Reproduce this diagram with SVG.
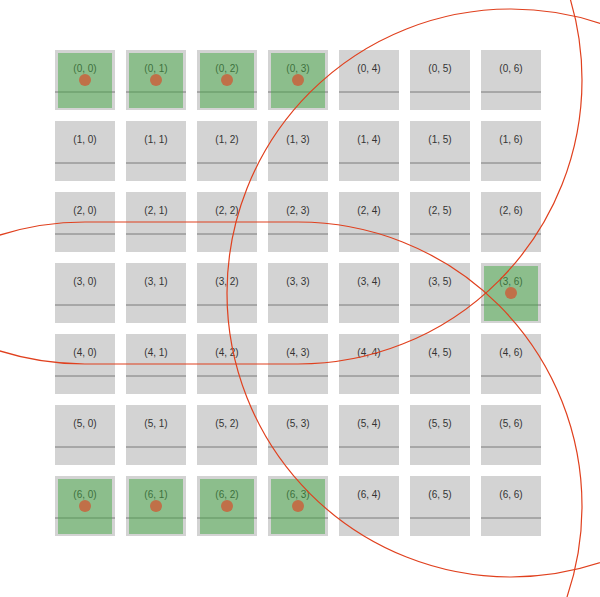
<svg xmlns="http://www.w3.org/2000/svg" width="600" height="597" viewBox="0 0 600 597">
<style>
.cell{fill:#d3d3d3}
.sep{stroke:#7a7a7a;stroke-width:1}
.lbl{font-family:"Liberation Sans",Arial,sans-serif;font-size:10px;fill:#333;text-anchor:middle}
.sel{fill:#45a945;fill-opacity:0.5}
.dot{fill:#c07048}
.hull{fill:none;stroke:#e0401e;stroke-width:1.2}
</style>
<rect width="600" height="597" fill="#fff"/>
<g id="cells">
<g id="cell-0-0"><rect class="cell" x="55" y="50" width="60" height="60"/><line class="sep" x1="55" y1="92" x2="115" y2="92"/><text class="lbl" x="85" y="72">(0, 0)</text><rect class="sel" x="58" y="53" width="54" height="55"/><circle class="dot" cx="85" cy="80" r="6"/></g>
<g id="cell-0-1"><rect class="cell" x="126" y="50" width="60" height="60"/><line class="sep" x1="126" y1="92" x2="186" y2="92"/><text class="lbl" x="156" y="72">(0, 1)</text><rect class="sel" x="129" y="53" width="54" height="55"/><circle class="dot" cx="156" cy="80" r="6"/></g>
<g id="cell-0-2"><rect class="cell" x="197" y="50" width="60" height="60"/><line class="sep" x1="197" y1="92" x2="257" y2="92"/><text class="lbl" x="227" y="72">(0, 2)</text><rect class="sel" x="200" y="53" width="54" height="55"/><circle class="dot" cx="227" cy="80" r="6"/></g>
<g id="cell-0-3"><rect class="cell" x="268" y="50" width="60" height="60"/><line class="sep" x1="268" y1="92" x2="328" y2="92"/><text class="lbl" x="298" y="72">(0, 3)</text><rect class="sel" x="271" y="53" width="54" height="55"/><circle class="dot" cx="298" cy="80" r="6"/></g>
<g id="cell-0-4"><rect class="cell" x="339" y="50" width="60" height="60"/><line class="sep" x1="339" y1="92" x2="399" y2="92"/><text class="lbl" x="369" y="72">(0, 4)</text></g>
<g id="cell-0-5"><rect class="cell" x="410" y="50" width="60" height="60"/><line class="sep" x1="410" y1="92" x2="470" y2="92"/><text class="lbl" x="440" y="72">(0, 5)</text></g>
<g id="cell-0-6"><rect class="cell" x="481" y="50" width="60" height="60"/><line class="sep" x1="481" y1="92" x2="541" y2="92"/><text class="lbl" x="511" y="72">(0, 6)</text></g>

<g id="cell-1-0"><rect class="cell" x="55" y="121" width="60" height="60"/><line class="sep" x1="55" y1="163" x2="115" y2="163"/><text class="lbl" x="85" y="143">(1, 0)</text></g>
<g id="cell-1-1"><rect class="cell" x="126" y="121" width="60" height="60"/><line class="sep" x1="126" y1="163" x2="186" y2="163"/><text class="lbl" x="156" y="143">(1, 1)</text></g>
<g id="cell-1-2"><rect class="cell" x="197" y="121" width="60" height="60"/><line class="sep" x1="197" y1="163" x2="257" y2="163"/><text class="lbl" x="227" y="143">(1, 2)</text></g>
<g id="cell-1-3"><rect class="cell" x="268" y="121" width="60" height="60"/><line class="sep" x1="268" y1="163" x2="328" y2="163"/><text class="lbl" x="298" y="143">(1, 3)</text></g>
<g id="cell-1-4"><rect class="cell" x="339" y="121" width="60" height="60"/><line class="sep" x1="339" y1="163" x2="399" y2="163"/><text class="lbl" x="369" y="143">(1, 4)</text></g>
<g id="cell-1-5"><rect class="cell" x="410" y="121" width="60" height="60"/><line class="sep" x1="410" y1="163" x2="470" y2="163"/><text class="lbl" x="440" y="143">(1, 5)</text></g>
<g id="cell-1-6"><rect class="cell" x="481" y="121" width="60" height="60"/><line class="sep" x1="481" y1="163" x2="541" y2="163"/><text class="lbl" x="511" y="143">(1, 6)</text></g>

<g id="cell-2-0"><rect class="cell" x="55" y="192" width="60" height="60"/><line class="sep" x1="55" y1="234" x2="115" y2="234"/><text class="lbl" x="85" y="214">(2, 0)</text></g>
<g id="cell-2-1"><rect class="cell" x="126" y="192" width="60" height="60"/><line class="sep" x1="126" y1="234" x2="186" y2="234"/><text class="lbl" x="156" y="214">(2, 1)</text></g>
<g id="cell-2-2"><rect class="cell" x="197" y="192" width="60" height="60"/><line class="sep" x1="197" y1="234" x2="257" y2="234"/><text class="lbl" x="227" y="214">(2, 2)</text></g>
<g id="cell-2-3"><rect class="cell" x="268" y="192" width="60" height="60"/><line class="sep" x1="268" y1="234" x2="328" y2="234"/><text class="lbl" x="298" y="214">(2, 3)</text></g>
<g id="cell-2-4"><rect class="cell" x="339" y="192" width="60" height="60"/><line class="sep" x1="339" y1="234" x2="399" y2="234"/><text class="lbl" x="369" y="214">(2, 4)</text></g>
<g id="cell-2-5"><rect class="cell" x="410" y="192" width="60" height="60"/><line class="sep" x1="410" y1="234" x2="470" y2="234"/><text class="lbl" x="440" y="214">(2, 5)</text></g>
<g id="cell-2-6"><rect class="cell" x="481" y="192" width="60" height="60"/><line class="sep" x1="481" y1="234" x2="541" y2="234"/><text class="lbl" x="511" y="214">(2, 6)</text></g>

<g id="cell-3-0"><rect class="cell" x="55" y="263" width="60" height="60"/><line class="sep" x1="55" y1="305" x2="115" y2="305"/><text class="lbl" x="85" y="285">(3, 0)</text></g>
<g id="cell-3-1"><rect class="cell" x="126" y="263" width="60" height="60"/><line class="sep" x1="126" y1="305" x2="186" y2="305"/><text class="lbl" x="156" y="285">(3, 1)</text></g>
<g id="cell-3-2"><rect class="cell" x="197" y="263" width="60" height="60"/><line class="sep" x1="197" y1="305" x2="257" y2="305"/><text class="lbl" x="227" y="285">(3, 2)</text></g>
<g id="cell-3-3"><rect class="cell" x="268" y="263" width="60" height="60"/><line class="sep" x1="268" y1="305" x2="328" y2="305"/><text class="lbl" x="298" y="285">(3, 3)</text></g>
<g id="cell-3-4"><rect class="cell" x="339" y="263" width="60" height="60"/><line class="sep" x1="339" y1="305" x2="399" y2="305"/><text class="lbl" x="369" y="285">(3, 4)</text></g>
<g id="cell-3-5"><rect class="cell" x="410" y="263" width="60" height="60"/><line class="sep" x1="410" y1="305" x2="470" y2="305"/><text class="lbl" x="440" y="285">(3, 5)</text></g>
<g id="cell-3-6"><rect class="cell" x="481" y="263" width="60" height="60"/><line class="sep" x1="481" y1="305" x2="541" y2="305"/><text class="lbl" x="511" y="285">(3, 6)</text><rect class="sel" x="484" y="266" width="54" height="55"/><circle class="dot" cx="511" cy="293" r="6"/></g>

<g id="cell-4-0"><rect class="cell" x="55" y="334" width="60" height="60"/><line class="sep" x1="55" y1="376" x2="115" y2="376"/><text class="lbl" x="85" y="356">(4, 0)</text></g>
<g id="cell-4-1"><rect class="cell" x="126" y="334" width="60" height="60"/><line class="sep" x1="126" y1="376" x2="186" y2="376"/><text class="lbl" x="156" y="356">(4, 1)</text></g>
<g id="cell-4-2"><rect class="cell" x="197" y="334" width="60" height="60"/><line class="sep" x1="197" y1="376" x2="257" y2="376"/><text class="lbl" x="227" y="356">(4, 2)</text></g>
<g id="cell-4-3"><rect class="cell" x="268" y="334" width="60" height="60"/><line class="sep" x1="268" y1="376" x2="328" y2="376"/><text class="lbl" x="298" y="356">(4, 3)</text></g>
<g id="cell-4-4"><rect class="cell" x="339" y="334" width="60" height="60"/><line class="sep" x1="339" y1="376" x2="399" y2="376"/><text class="lbl" x="369" y="356">(4, 4)</text></g>
<g id="cell-4-5"><rect class="cell" x="410" y="334" width="60" height="60"/><line class="sep" x1="410" y1="376" x2="470" y2="376"/><text class="lbl" x="440" y="356">(4, 5)</text></g>
<g id="cell-4-6"><rect class="cell" x="481" y="334" width="60" height="60"/><line class="sep" x1="481" y1="376" x2="541" y2="376"/><text class="lbl" x="511" y="356">(4, 6)</text></g>

<g id="cell-5-0"><rect class="cell" x="55" y="405" width="60" height="60"/><line class="sep" x1="55" y1="447" x2="115" y2="447"/><text class="lbl" x="85" y="427">(5, 0)</text></g>
<g id="cell-5-1"><rect class="cell" x="126" y="405" width="60" height="60"/><line class="sep" x1="126" y1="447" x2="186" y2="447"/><text class="lbl" x="156" y="427">(5, 1)</text></g>
<g id="cell-5-2"><rect class="cell" x="197" y="405" width="60" height="60"/><line class="sep" x1="197" y1="447" x2="257" y2="447"/><text class="lbl" x="227" y="427">(5, 2)</text></g>
<g id="cell-5-3"><rect class="cell" x="268" y="405" width="60" height="60"/><line class="sep" x1="268" y1="447" x2="328" y2="447"/><text class="lbl" x="298" y="427">(5, 3)</text></g>
<g id="cell-5-4"><rect class="cell" x="339" y="405" width="60" height="60"/><line class="sep" x1="339" y1="447" x2="399" y2="447"/><text class="lbl" x="369" y="427">(5, 4)</text></g>
<g id="cell-5-5"><rect class="cell" x="410" y="405" width="60" height="60"/><line class="sep" x1="410" y1="447" x2="470" y2="447"/><text class="lbl" x="440" y="427">(5, 5)</text></g>
<g id="cell-5-6"><rect class="cell" x="481" y="405" width="60" height="60"/><line class="sep" x1="481" y1="447" x2="541" y2="447"/><text class="lbl" x="511" y="427">(5, 6)</text></g>

<g id="cell-6-0"><rect class="cell" x="55" y="476" width="60" height="60"/><line class="sep" x1="55" y1="518" x2="115" y2="518"/><text class="lbl" x="85" y="498">(6, 0)</text><rect class="sel" x="58" y="479" width="54" height="55"/><circle class="dot" cx="85" cy="506" r="6"/></g>
<g id="cell-6-1"><rect class="cell" x="126" y="476" width="60" height="60"/><line class="sep" x1="126" y1="518" x2="186" y2="518"/><text class="lbl" x="156" y="498">(6, 1)</text><rect class="sel" x="129" y="479" width="54" height="55"/><circle class="dot" cx="156" cy="506" r="6"/></g>
<g id="cell-6-2"><rect class="cell" x="197" y="476" width="60" height="60"/><line class="sep" x1="197" y1="518" x2="257" y2="518"/><text class="lbl" x="227" y="498">(6, 2)</text><rect class="sel" x="200" y="479" width="54" height="55"/><circle class="dot" cx="227" cy="506" r="6"/></g>
<g id="cell-6-3"><rect class="cell" x="268" y="476" width="60" height="60"/><line class="sep" x1="268" y1="518" x2="328" y2="518"/><text class="lbl" x="298" y="498">(6, 3)</text><rect class="sel" x="271" y="479" width="54" height="55"/><circle class="dot" cx="298" cy="506" r="6"/></g>
<g id="cell-6-4"><rect class="cell" x="339" y="476" width="60" height="60"/><line class="sep" x1="339" y1="518" x2="399" y2="518"/><text class="lbl" x="369" y="498">(6, 4)</text></g>
<g id="cell-6-5"><rect class="cell" x="410" y="476" width="60" height="60"/><line class="sep" x1="410" y1="518" x2="470" y2="518"/><text class="lbl" x="440" y="498">(6, 5)</text></g>
<g id="cell-6-6"><rect class="cell" x="481" y="476" width="60" height="60"/><line class="sep" x1="481" y1="518" x2="541" y2="518"/><text class="lbl" x="511" y="498">(6, 6)</text></g>
</g>
<g id="connectors">
<rect class="hull" x="-199" y="-204" width="781" height="568" rx="284" ry="284"/>
<rect class="hull" x="-199" y="222" width="781" height="568" rx="284" ry="284"/>
<circle class="hull" cx="511" cy="293" r="284"/>
</g>
</svg>
